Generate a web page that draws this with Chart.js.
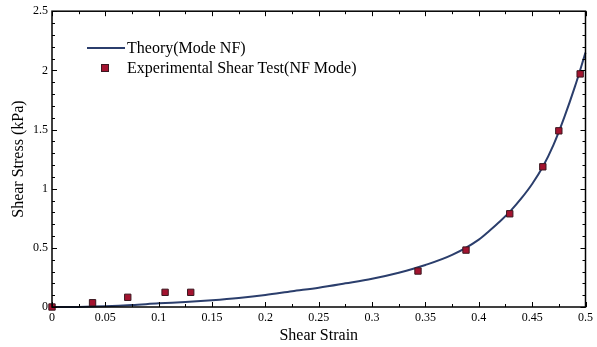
<!DOCTYPE html>
<html>
<head>
<meta charset="utf-8">
<script src="https://cdn.jsdelivr.net/npm/chart.js@4.4.1/dist/chart.umd.min.js"></script>
<style>
  html, body { margin: 0; padding: 0; background: #fff; }
  #wrap { width: 597px; height: 347px; }
</style>
</head>
<body>
<div id="wrap"><canvas id="myChart" width="597" height="347"></canvas></div>
<script>
// Theory curve (Mode NF)
var theoryStrain = [0, 0.025, 0.05, 0.075, 0.1, 0.125, 0.15, 0.175, 0.2, 0.225, 0.25, 0.275, 0.3, 0.325, 0.35, 0.375, 0.4, 0.41, 0.42, 0.43, 0.44, 0.45, 0.46, 0.47, 0.48, 0.49, 0.5];
var theoryStress = [0, 0.001, 0.006, 0.016, 0.031, 0.042, 0.057, 0.076, 0.101, 0.133, 0.163, 0.2, 0.239, 0.29, 0.355, 0.44, 0.57, 0.645, 0.725, 0.815, 0.92, 1.04, 1.185, 1.37, 1.6, 1.86, 2.15];

// Experimental shear test (NF mode)
var expStrain = [0, 0.038, 0.071, 0.106, 0.130, 0.343, 0.388, 0.429, 0.460, 0.475, 0.495];
var expStress = [0, 0.036, 0.082, 0.124, 0.124, 0.304, 0.481, 0.788, 1.185, 1.489, 1.97];

var xTicksMajor = 0.05, xTicksMinor = 0.025;
var yTicksMajor = 0.5, yTicksMinor = 0.1;

var serif = "'Liberation Serif', 'Times New Roman', serif";
var lineColor = "#2b3e6c";
var markFill = "#a3132f";
var markBorder = "#3b1820";

let toXY = (xs, ys) => xs.map((x, i) => ({ x: x, y: ys[i] }));
let fmt = (v) => String(Math.round(v * 1000) / 1000);

// frame + inward ticks + legend inside plot
var framePlugin = {
    id: "frame",
    afterDraw: function(chart) {
        var ctx = chart.ctx;
        var a = chart.chartArea;
        var xs = chart.scales.x, ys = chart.scales.y;
        ctx.save();
        ctx.strokeStyle = "#000";
        ctx.lineWidth = 1.5;
        ctx.strokeRect(a.left, a.top, a.right - a.left, a.bottom - a.top);
        ctx.lineWidth = 1;
        ctx.beginPath();
        for (var v = 0; v <= 0.5001; v += xTicksMinor) {
            var px = Math.round(xs.getPixelForValue(v)) + 0.5;
            var major = Math.abs(v / xTicksMajor - Math.round(v / xTicksMajor)) < 1e-6;
            var len = major ? 5 : 3;
            ctx.moveTo(px, a.bottom); ctx.lineTo(px, a.bottom - len);
            ctx.moveTo(px, a.top); ctx.lineTo(px, a.top + len);
        }
        for (var w = 0; w <= 2.5001; w += yTicksMinor) {
            var py = Math.round(ys.getPixelForValue(w)) + 0.5;
            var majorY = Math.abs(w / yTicksMajor - Math.round(w / yTicksMajor)) < 1e-6;
            var lenY = majorY ? 5 : 3;
            ctx.moveTo(a.left, py); ctx.lineTo(a.left + lenY, py);
            ctx.moveTo(a.right, py); ctx.lineTo(a.right - lenY, py);
        }
        ctx.stroke();

        // legend
        ctx.font = "16px " + serif;
        ctx.fillStyle = "#000";
        ctx.textBaseline = "middle";
        ctx.strokeStyle = lineColor;
        ctx.lineWidth = 2;
        ctx.beginPath();
        ctx.moveTo(87, 48); ctx.lineTo(125, 48);
        ctx.stroke();
        ctx.fillText(chart.data.datasets[0].label, 127, 49);
        ctx.fillStyle = markFill;
        ctx.strokeStyle = markBorder;
        ctx.lineWidth = 1;
        ctx.fillRect(101, 64, 8, 8);
        ctx.strokeRect(101.5, 64.5, 7, 7);
        ctx.fillStyle = "#000";
        ctx.fillText(chart.data.datasets[1].label, 127, 69);
        ctx.restore();
    }
};

const config = {
    type: "scatter",
    data: {
        datasets: [
            {
                label: "Theory(Mode NF)",
                data: toXY(theoryStrain, theoryStress),
                showLine: true,
                borderColor: lineColor,
                borderWidth: 2,
                pointRadius: 0,
                cubicInterpolationMode: "monotone",
                order: 2
            },
            {
                label: "Experimental Shear Test(NF Mode)",
                data: toXY(expStrain, expStress),
                pointStyle: "rect",
                pointRadius: 4.5,
                backgroundColor: markFill,
                borderColor: markBorder,
                borderWidth: 1,
                order: 1
            }
        ]
    },
    options: {
        responsive: false,
        animation: false,
        clip: false,
        layout: { padding: { left: 0, top: 11, right: 8, bottom: 0 } },
        plugins: { legend: { display: false }, tooltip: { enabled: false } },
        scales: {
            x: {
                type: "linear",
                min: 0, max: 0.5,
                grid: { display: false, drawTicks: false },
                border: { display: false },
                ticks: {
                    stepSize: xTicksMajor,
                    padding: 4,
                    color: "#000",
                    font: { family: serif, size: 12 },
                    maxRotation: 0,
                    callback: (v) => fmt(v)
                },
                title: {
                    display: true,
                    text: "Shear Strain",
                    color: "#000",
                    font: { family: serif, size: 16 },
                    padding: { top: 0, bottom: 2 }
                },
                afterFit: (s) => { s.height = 40; }
            },
            y: {
                type: "linear",
                min: 0, max: 2.5,
                grid: { display: false, drawTicks: false },
                border: { display: false },
                ticks: {
                    stepSize: yTicksMajor,
                    padding: 4,
                    color: "#000",
                    font: { family: serif, size: 12 },
                    callback: (v) => fmt(v)
                },
                title: {
                    display: true,
                    text: "Shear Stress (kPa)",
                    color: "#000",
                    font: { family: serif, size: 16 },
                    padding: { top: 9, bottom: 0 }
                },
                afterFit: (s) => { s.width = 52; }
            }
        }
    },
    plugins: [framePlugin]
};

const ctx = document.getElementById("myChart").getContext("2d");
let myChart = new Chart(ctx, config);
</script>
</body>
</html>
